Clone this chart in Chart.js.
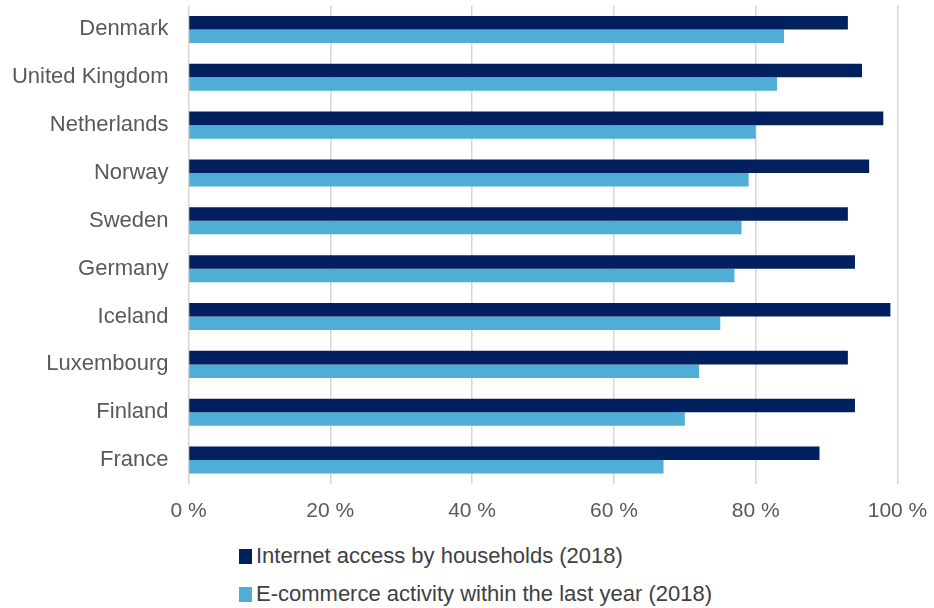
<!DOCTYPE html>
<html>
<head>
<meta charset="utf-8">
<title>Internet access and e-commerce 2018</title>
<script src="https://cdn.jsdelivr.net/npm/chart.js@4"></script>
<style>
    html, body {
        margin: 0;
        padding: 0;
        background: #fff;
        font-family: "Liberation Sans", Arial, sans-serif;
    }
    #wrap {
        position: relative;
        width: 934px;
        height: 608px;
    }
    #chart-box {
        position: absolute;
        left: 0;
        top: 0;
        width: 934px;
        height: 530px;
    }
    #legend {
        position: absolute;
        left: 239px;
        top: 537px;
        font-size: 22px;
        color: #404040;
    }
    .legend-item {
        display: flex;
        align-items: center;
        height: 38px;
    }
    .legend-box {
        width: 13px;
        height: 15px;
        margin-right: 4px;
    }
</style>
</head>
<body>
<div id="wrap">
    <div id="chart-box"><canvas id="bar-chart"></canvas></div>
    <div id="legend"></div>
</div>
<script>
// Countries, top to bottom
const countries = ['Denmark', 'United Kingdom', 'Netherlands', 'Norway', 'Sweden',
    'Germany', 'Iceland', 'Luxembourg', 'Finland', 'France'];

// Share in percent
const internetAccess = [93, 95, 98, 96, 93, 94, 99, 93, 94, 89];
const ecommerce = [84, 83, 80, 79, 78, 77, 75, 72, 70, 67];

const seriesLabels = ['Internet access by households (2018)', 'E-commerce activity within the last year (2018)'];
const seriesColors = ['#002060', '#4FADD6'];

const xTicks = [0, 20, 40, 60, 80, 100];

const fontFamily = '"Liberation Sans", Arial, sans-serif';

const ctx = document.getElementById('bar-chart').getContext('2d');

const barChart = new Chart(ctx, {
    type: 'bar',
    data: {
        labels: countries,
        datasets: [{
            label: seriesLabels[0],
            data: internetAccess,
            backgroundColor: seriesColors[0],
            categoryPercentage: 0.565,
            barPercentage: 1.0
        }, {
            label: seriesLabels[1],
            data: ecommerce,
            backgroundColor: seriesColors[1],
            categoryPercentage: 0.565,
            barPercentage: 1.0
        }]
    },
    options: {
        indexAxis: 'y',
        responsive: true,
        maintainAspectRatio: false,
        animation: false,
        layout: {
            padding: { top: 5.5, right: 36.5, left: 0, bottom: 0 }
        },
        plugins: {
            legend: { display: false },
            tooltip: { enabled: false }
        },
        scales: {
            x: {
                min: 0,
                max: 100,
                afterBuildTicks: function(axis) {
                    axis.ticks = xTicks.map(v => ({ value: v }));
                },
                afterFit: function(scale) {
                    // "100 %" may hang into the right margin
                    scale.height = 46;
                    scale.paddingLeft = 0;
                    scale.paddingRight = 0;
                },
                border: { display: false },
                grid: {
                    color: '#d6d6d6',
                    lineWidth: 1.5,
                    drawTicks: false
                },
                ticks: {
                    padding: 15,
                    color: '#595959',
                    maxRotation: 0,
                    font: { family: fontFamily, size: 21 },
                    callback: function(value) {
                        return value + ' %';
                    }
                }
            },
            y: {
                afterFit: function(scale) {
                    // fixed label column, no extra room above/below for the labels
                    scale.width = 188.5;
                    scale.paddingTop = 0;
                    scale.paddingBottom = 0;
                },
                border: { display: false },
                grid: { display: false, drawTicks: false },
                ticks: {
                    padding: 20,
                    color: '#595959',
                    font: { family: fontFamily, size: 22 }
                }
            }
        }
    }
});

// Legend stacked in two rows under the chart
const legend = document.getElementById('legend');
legend.innerHTML = seriesLabels.map((label, i) => `
    <div class="legend-item">
        <span class="legend-box" style="background:${seriesColors[i]}"></span>
        <span>${label}</span>
    </div>
`).join('');
</script>
</body>
</html>
